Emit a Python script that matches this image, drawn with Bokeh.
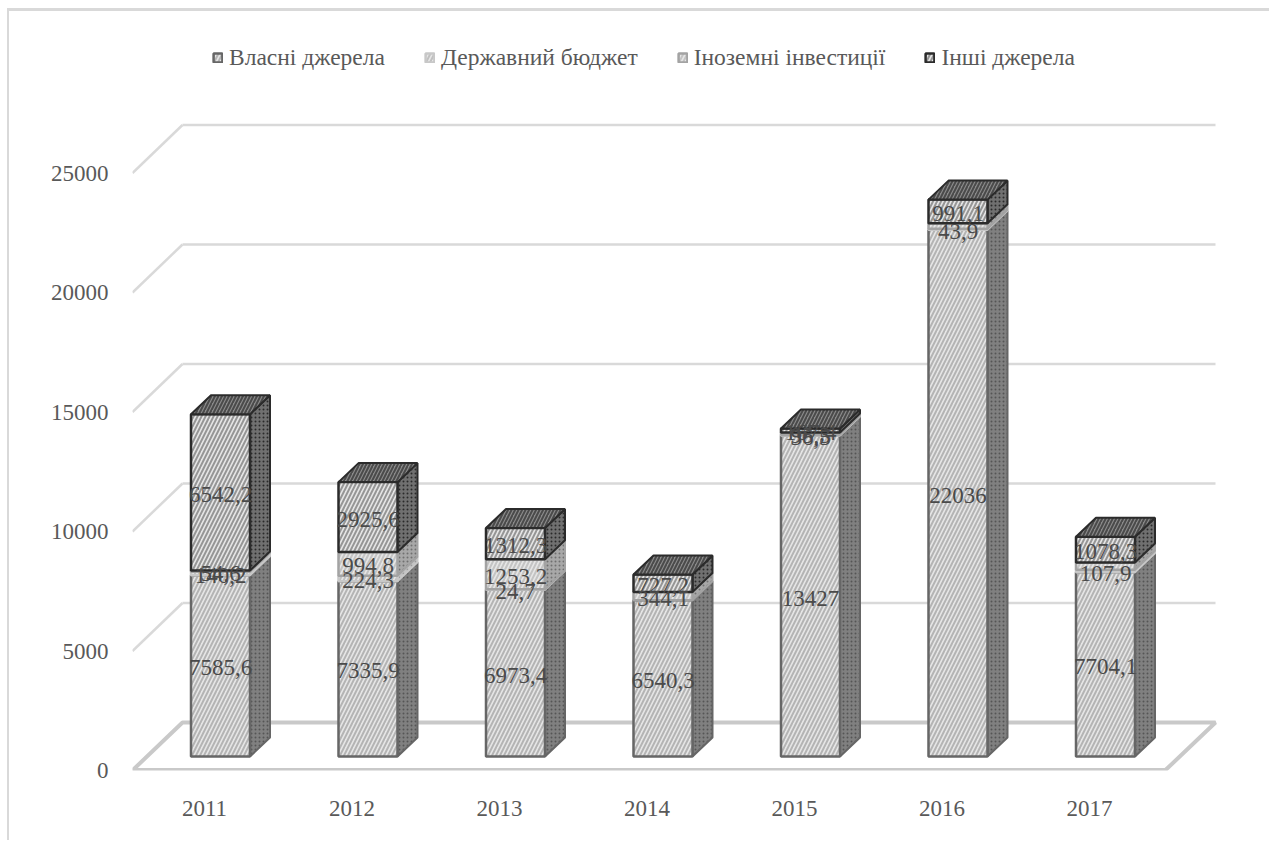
from bokeh.plotting import figure
from bokeh.models import Range1d, FixedTicker, Legend, LegendItem, ColumnDataSource
from bokeh.core.properties import value
from bokeh.embed import file_html
from bokeh.resources import INLINE

years = ["2011", "2012", "2013", "2014", "2015", "2016", "2017"]
names = ["Власні джерела", "Державний бюджет", "Іноземні інвестиції", "Інші джерела"]
own = [7585.6, 7335.9, 6973.4, 6540.3, 13427, 22036, 7704.1]
budget = [140.2, 224.3, 24.7, 0, 36.5, 43.9, 107.9]
foreign = [54.6, 994.8, 1253.2, 344.1, 95.3, 230, 305]
other = [6542.2, 2925.6, 1312.3, 727.2, 167.4, 991.1, 1078.3]
labels = [
    ["7585,6", "7335,9", "6973,4", "6540,3", "13427", "22036", "7704,1"],
    ["140,2", "224,3", "24,7", "", "36,5", "43,9", "107,9"],
    ["54,6", "994,8", "1253,2", "344,1", "95,3", "", ""],
    ["6542,2", "2925,6", "1312,3", "727,2", "167,4", "991,1", "1078,3"],
]
yticks = [0, 5000, 10000, 15000, 20000, 25000]

W, H = 1262, 832
LEFT, BOTTOM = 123, 73           # frame margins inside the figure
PX_X, PX_Y = 147.5, 0.0239       # px per category, px per value unit
FONT = "Liberation Serif"

x0 = -(204 - 9 - LEFT) / PX_X
x1 = x0 + (W - LEFT) / PX_X
y1 = (H - BOTTOM) / PX_Y
p = figure(width=W, height=H, output_backend="svg", toolbar_location=None,
           x_range=Range1d(x0, x1), y_range=Range1d(0, y1),
           min_border_left=LEFT, min_border_bottom=BOTTOM, min_border_right=0, min_border_top=0,
           outline_line_color=None,
           styles={"margin-left": "7px", "margin-top": "8px",
                   "border-left": "2px solid #d9d9d9", "border-top": "3px solid #d9d9d9"})
p.grid.visible = False

for ax, ticks in ((p.yaxis[0], yticks), (p.xaxis[0], list(range(len(years))))):
    ax.ticker = FixedTicker(ticks=ticks)
    ax.axis_line_color = None
    ax.major_tick_line_color = None
    ax.minor_tick_line_color = None
    ax.major_label_text_font = FONT
    ax.major_label_text_font_size = "23px"
    ax.major_label_text_color = "#595959"
p.yaxis[0].major_label_standoff = 18
p.xaxis[0].major_label_standoff = 24
p.xaxis[0].major_label_overrides = {i: y for i, y in enumerate(years)}

# 3D chart box: depth of walls and of bars, in data units
WX, WY = 50 / PX_X, 48 / PX_Y
FLOOR_W = 1033 / PX_X
BASE = 14 / PX_Y
SHIFT = 16 / PX_X                # bars stand deeper than the category labels
DX, DY = 20 / PX_X, 19 / PX_Y
HW = 29.5 / PX_X

wall = [t for t in yticks if t > 0]
p.segment([x0 + WX] * len(wall), [t + WY for t in wall], [x0 + WX + FLOOR_W] * len(wall),
          [t + WY for t in wall], line_color="#d9d9d9", line_width=2.5)
p.segment([x0] * len(wall), wall, [x0 + WX] * len(wall), [t + WY for t in wall],
          line_color="#d9d9d9", line_width=2.5)
p.patch([x0 + 0.002, x0 + FLOOR_W, x0 + FLOOR_W + WX, x0 + WX], [18, 18, WY, WY],
        fill_color=None, line_color="#c9c9c9", line_width=4)

series = [own, budget, foreign, other]
lines = ["#666666", "#c8c8c8", "#a3a3a3", "#2b2b2b"]
side_fill = ["#808080", "#c4c4c4", "#a8a8a8", "#707070"]
side_hatch = ["#555555", "#9a9a9a", "#707070", "#2a2a2a"]
front_hatch = ["#b4b4b4", "#c0c0c0", "#c4c4c4", "#969696"]
fronts = []
n = len(years)
bottom = [BASE] * n
label_x, label_y, label_t = [], [], []
for s, vals in enumerate(series):
    top = [b + v for b, v in zip(bottom, vals)]
    keep = [i for i in range(n) if vals[i] > 0]
    xs = [[i + SHIFT + HW, i + SHIFT + HW + DX, i + SHIFT + HW + DX, i + SHIFT + HW] for i in keep]
    ys = [[bottom[i], bottom[i] + DY, top[i] + DY, top[i]] for i in keep]
    p.patches(xs, ys, fill_color=side_fill[s], line_color=lines[s], line_width=2,
              hatch_pattern="dot", hatch_color=side_hatch[s], hatch_scale=4, hatch_weight=1.5)
    src = ColumnDataSource(dict(x=[i + SHIFT for i in keep], bottom=[bottom[i] for i in keep],
                                top=[top[i] for i in keep]))
    r = p.vbar("x", width=2 * HW, bottom="bottom", top="top", source=src,
               fill_color="#e6e6e6", line_color=lines[s], line_width=2.5,
               hatch_pattern="right_diagonal_line", hatch_color=front_hatch[s],
               hatch_scale=8, hatch_weight=2)
    fronts.append(r)
    for i in range(n):
        if labels[s][i]:
            label_x.append(i + SHIFT)
            label_y.append((bottom[i] + top[i]) / 2)
            label_t.append(labels[s][i])
    bottom = top

xs = [[i + SHIFT - HW, i + SHIFT + HW, i + SHIFT + HW + DX, i + SHIFT - HW + DX] for i in range(n)]
ys = [[t, t, t + DY, t + DY] for t in bottom]
p.patches(xs, ys, fill_color="#8a8a8a", line_color="#2b2b2b", line_width=2,
          hatch_pattern="right_diagonal_line", hatch_color="#4a4a4a", hatch_scale=7, hatch_weight=2)

p.text(label_x, label_y, text=label_t, text_align="center", text_baseline="middle", y_offset=2,
       text_font=value(FONT), text_font_size="23px", text_color="#4a4a4a")

legend = Legend(items=[LegendItem(label=nm, renderers=[r]) for nm, r in zip(names, fronts)],
                orientation="horizontal", location=(80, 699), background_fill_alpha=0,
                border_line_color=None, glyph_width=11, glyph_height=11, label_standoff=6,
                spacing=39, label_text_font=FONT, label_text_font_size="23.5px",
                label_text_color="#595959", padding=0, margin=0)
p.add_layout(legend)

open("out.html", "w").write(file_html(p, INLINE))
